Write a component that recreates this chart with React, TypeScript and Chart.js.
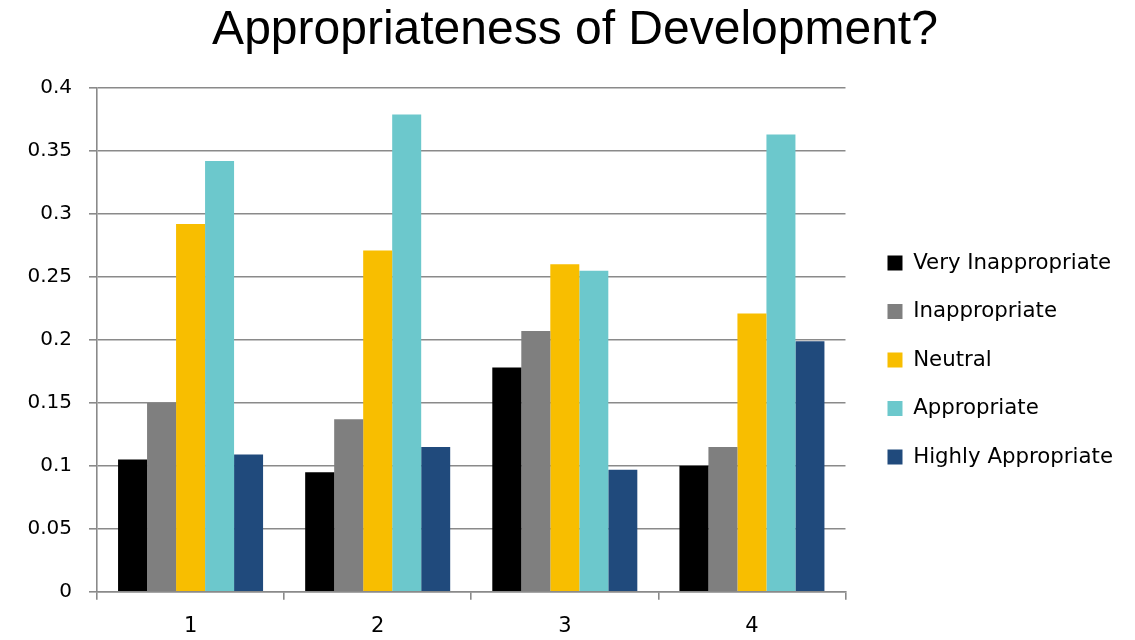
import React, { useEffect, useRef } from "react";
import { Chart, registerables } from "chart.js";

Chart.register(...registerables);

const categories = ["1", "2", "3", "4"];
const seriesNames = ["Very Inappropriate", "Inappropriate", "Neutral", "Appropriate", "Highly Appropriate"];
const veryInappropriate = [0.105, 0.095, 0.178, 0.1];
const inappropriate = [0.15, 0.137, 0.207, 0.115];
const neutral = [0.292, 0.271, 0.26, 0.221];
const appropriate = [0.342, 0.379, 0.255, 0.363];
const highlyAppropriate = [0.109, 0.115, 0.097, 0.199];
const colors = ["#000000", "#7f7f7f", "#f8be00", "#6cc8cc", "#204a7c"];

export default function App() {
  const ref = useRef<HTMLCanvasElement | null>(null);
  useEffect(() => {
    document.body.style.margin = "0";
    const values = [veryInappropriate, inappropriate, neutral, appropriate, highlyAppropriate];
    const chart = new Chart(ref.current!, {
      type: "bar",
      data: {
        labels: categories,
        datasets: seriesNames.map((name, i) => ({
          label: name,
          data: values[i],
          backgroundColor: colors[i],
          borderWidth: 0,
          categoryPercentage: 0.775,
          barPercentage: 1,
          yAxisID: "y",
        })),
      },
      options: {
        animation: false,
        responsive: false,
        layout: { padding: { left: 27, right: 12, top: 0, bottom: -14 } },
        plugins: {
          title: {
            display: true,
            text: "Appropriateness of Development?",
            color: "#000",
            font: { family: "Liberation Sans", size: 48, weight: "normal", lineHeight: 1.2 },
            padding: { top: 1.5, bottom: 28.9 },
          },
          legend: {
            position: "right",
            align: "center",
            maxWidth: 320,
            title: {
              display: true,
              text: " ",
              font: { size: 10, lineHeight: 1.2 },
              padding: 27,
            },
            labels: {
              boxWidth: 15,
              boxHeight: 15,
              padding: 27.2,
              color: "#000",
              font: { family: "DejaVu Sans", size: 21.3 },
            },
          },
          tooltip: { enabled: false },
        },
        scales: {
          x: {
            offset: true,
            grid: {
              offset: true,
              drawOnChartArea: false,
              drawTicks: true,
              tickLength: 8,
              color: "#8a8a8a",
              lineWidth: 1.6,
            },
            border: { color: "#8a8a8a", width: 1.6 },
            ticks: { color: "#000", font: { family: "DejaVu Sans", size: 21 }, padding: 14.5 },
          },
          y: {
            min: 0,
            max: 0.4,
            afterFit: (s: any) => {
              s.width = 70;
            },
            ticks: {
              stepSize: 0.05,
              color: "#000",
              font: { family: "DejaVu Sans", size: 20 },
              padding: 17,
              callback: (v: any) => String(Math.round(Number(v) * 100) / 100),
            },
            grid: { color: "#8a8a8a", lineWidth: 1.6, tickLength: 8 },
            border: { color: "#8a8a8a", width: 1.6 },
          },
          spacer: {
            type: "linear",
            position: "right",
            display: true,
            grid: { display: false, drawTicks: false },
            border: { display: false },
            ticks: { display: false },
            afterFit: (s: any) => {
              s.width = 14.8;
            },
          },
        },
      },
    });
    return () => chart.destroy();
  }, []);
  return (
    <div style={{ position: "fixed", left: 0, top: 0, width: 1135, height: 640, background: "#fff" }}>
      <canvas ref={ref} width={1135} height={640} />
    </div>
  );
}
